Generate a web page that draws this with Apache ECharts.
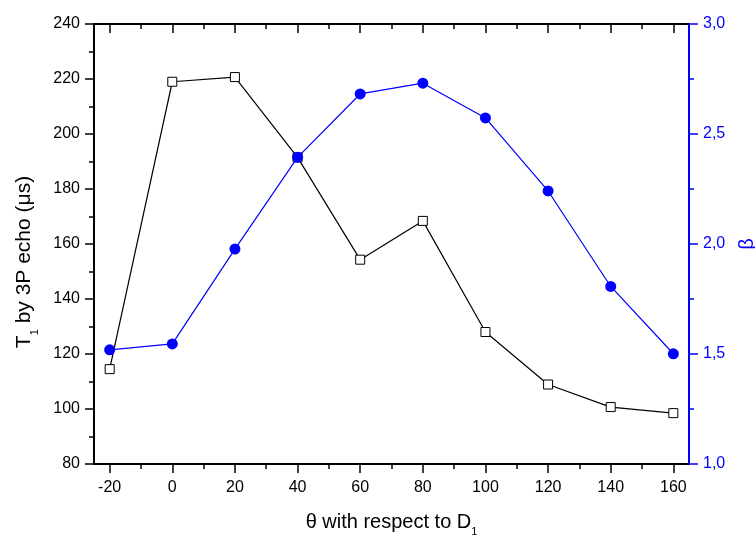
<!DOCTYPE html>
<html>
<head>
<meta charset="utf-8">
<script src="https://cdn.jsdelivr.net/npm/echarts@6/dist/echarts.min.js"></script>
<style>
html,body{margin:0;padding:0;background:#fff;}
#c{width:755px;height:537px;}
</style>
</head>
<body>
<div id="c"></div>
<script>
const thetaValues = [-20, 0, 20, 40, 60, 80, 100, 120, 140, 160];
const t1Values = [114.5, 219.0, 220.7, 191.5, 154.3, 168.4, 128.0, 108.9, 100.7, 98.5];
const betaValues = [1.519, 1.546, 1.977, 2.394, 2.682, 2.731, 2.573, 2.241, 1.807, 1.501];
const xMajorTicks = [-20, 0, 20, 40, 60, 80, 100, 120, 140, 160];
const xMinorTicks = [-10, 10, 30, 50, 70, 90, 110, 130, 150];

const BLACK = '#000000';
const BLUE = '#0000ff';
const FONT = 'Liberation Sans, Arial, sans-serif';

const chart = echarts.init(document.getElementById('c'), null, {renderer: 'canvas'});

const xBase = {type: 'value', min: -25, max: 165, gridIndex: 0, splitLine: {show: false}};

const option = {
  animation: false,
  backgroundColor: '#fff',
  grid: {left: 94, right: 66, top: 24, bottom: 73, outerBoundsMode: 'none'},
  xAxis: [
    Object.assign({}, xBase, {
      position: 'bottom',
      axisLine: {show: true, onZero: false, lineStyle: {color: BLACK, width: 2}},
      axisTick: {show: true, inside: false, length: 9, customValues: xMajorTicks, lineStyle: {color: BLACK, width: 1.5}},
      axisLabel: {show: true, customValues: xMajorTicks, margin: 16, color: BLACK, fontSize: 16, fontFamily: FONT},
      name: '{a|θ with respect to D}{s|1}',
      nameLocation: 'middle',
      nameGap: 53,
      nameTextStyle: {
        rich: {
          a: {fontSize: 20, fontFamily: FONT, color: BLACK, lineHeight: 20, padding: [0, 0, 5, 0], verticalAlign: 'bottom'},
          s: {fontSize: 11, fontFamily: FONT, color: BLACK, lineHeight: 11, verticalAlign: 'bottom'}
        }
      }
    }),
    Object.assign({}, xBase, {
      position: 'bottom',
      axisLine: {show: false, onZero: false},
      axisTick: {show: true, inside: false, length: 5, customValues: xMinorTicks, lineStyle: {color: BLACK, width: 1.5}},
      axisLabel: {show: false}
    }),
    Object.assign({}, xBase, {
      position: 'top',
      axisLine: {show: true, onZero: false, lineStyle: {color: BLACK, width: 2}},
      axisTick: {show: true, inside: true, length: 9, customValues: xMajorTicks, lineStyle: {color: BLACK, width: 1.5}},
      axisLabel: {show: false}
    }),
    Object.assign({}, xBase, {
      position: 'top',
      axisLine: {show: false, onZero: false},
      axisTick: {show: true, inside: true, length: 5, customValues: xMinorTicks, lineStyle: {color: BLACK, width: 1.5}},
      axisLabel: {show: false}
    })
  ],
  yAxis: [
    {
      type: 'value', position: 'left', min: 80, max: 240, interval: 20,
      splitLine: {show: false},
      axisLine: {show: true, onZero: false, lineStyle: {color: BLACK, width: 2}},
      axisTick: {show: true, inside: false, length: 9, lineStyle: {color: BLACK, width: 1.5}},
      minorTick: {show: true, splitNumber: 2, length: 5, lineStyle: {color: BLACK, width: 1.5}},
      axisLabel: {margin: 14, color: BLACK, fontSize: 16, fontFamily: FONT},
      name: '{a|T}{s|1}{a| by 3P echo (μs)}',
      nameLocation: 'middle',
      nameGap: 54,
      nameRotate: 90,
      nameTextStyle: {
        padding: [0, 36, 0, 0],
        rich: {
          a: {fontSize: 21, fontFamily: FONT, color: BLACK, lineHeight: 21, padding: [0, 0, 5, 0], verticalAlign: 'bottom'},
          s: {fontSize: 11, fontFamily: FONT, color: BLACK, lineHeight: 11, verticalAlign: 'bottom'}
        }
      }
    },
    {
      type: 'value', position: 'right', min: 1, max: 3, interval: 0.5,
      splitLine: {show: false},
      axisLine: {show: true, onZero: false, lineStyle: {color: BLUE, width: 2}},
      axisTick: {show: true, inside: false, length: 9, lineStyle: {color: BLUE, width: 1.5}},
      minorTick: {show: true, splitNumber: 2, length: 5, lineStyle: {color: BLUE, width: 1.5}},
      axisLabel: {margin: 14, color: BLUE, fontSize: 16, fontFamily: FONT,
        formatter: v => v.toFixed(1).replace('.', ',')},
      name: 'β',
      nameLocation: 'middle',
      nameGap: 48,
      nameRotate: 90,
      nameTextStyle: {color: BLUE, fontSize: 20, fontFamily: FONT}
    }
  ],
  series: [
    {
      type: 'line', xAxisIndex: 0, yAxisIndex: 0,
      data: thetaValues.map((x, i) => [x, t1Values[i]]),
      symbol: 'rect', symbolSize: 9,
      itemStyle: {color: '#ffffff', borderColor: BLACK, borderWidth: 1},
      lineStyle: {color: BLACK, width: 1.2},
      z: 2
    },
    {
      type: 'line', xAxisIndex: 0, yAxisIndex: 1,
      data: thetaValues.map((x, i) => [x, betaValues[i]]),
      symbol: 'circle', symbolSize: 11,
      itemStyle: {color: BLUE, borderColor: BLUE, borderWidth: 0},
      lineStyle: {color: BLUE, width: 1.2},
      z: 3
    }
  ]
};
chart.setOption(option);
</script>
</body>
</html>
